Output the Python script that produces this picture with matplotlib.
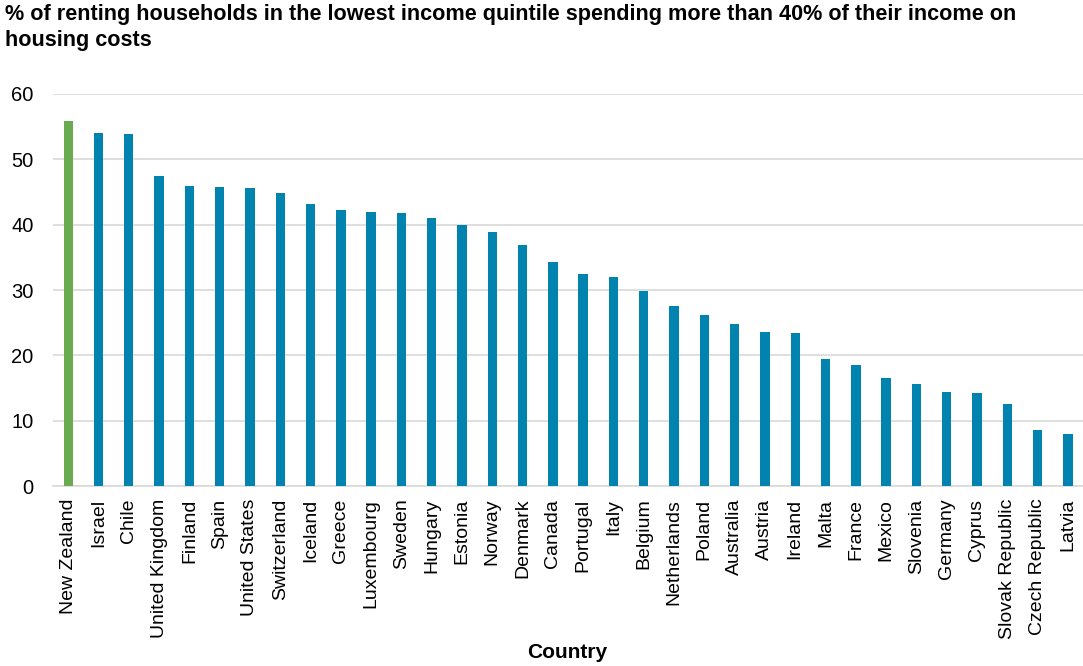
import matplotlib.pyplot as plt
import numpy as np

plt.rcParams['font.family'] = ['Liberation Sans', 'DejaVu Sans']

countries = [
    'New Zealand', 'Israel', 'Chile', 'United Kingdom', 'Finland', 'Spain',
    'United States', 'Switzerland', 'Iceland', 'Greece', 'Luxembourg',
    'Sweden', 'Hungary', 'Estonia', 'Norway', 'Denmark', 'Canada',
    'Portugal', 'Italy', 'Belgium', 'Netherlands', 'Poland', 'Australia',
    'Austria', 'Ireland', 'Malta', 'France', 'Mexico', 'Slovenia',
    'Germany', 'Cyprus', 'Slovak Republic', 'Czech Republic', 'Latvia',
]
share_over_40 = [
    55.9, 54.0, 53.8, 47.4, 45.9, 45.7, 45.6, 44.8, 43.2, 42.2, 42.0,
    41.8, 41.0, 40.0, 38.9, 36.9, 34.3, 32.4, 32.0, 29.9, 27.6, 26.2,
    24.8, 23.6, 23.5, 19.5, 18.6, 16.6, 15.6, 14.4, 14.2, 12.5, 8.6, 8.0,
]
highlight = 'New Zealand'

BLUE = '#0083ae'
GREEN = '#6aaa50'
GRID = '#d9d9d9'

fig = plt.figure(figsize=(10.83, 6.66), dpi=100)
ax = fig.add_axes([0.049, 0.27, 0.951, 0.589])

x = np.arange(len(countries))
colors = [GREEN if c == highlight else BLUE for c in countries]
ax.bar(x, share_over_40, width=0.31, color=colors, zorder=3)

ax.set_xlim(-0.5, len(countries) - 0.5)
ax.set_ylim(0, 60)
ax.set_yticks(range(0, 61, 10))
ax.set_xticks(x)
ax.set_xticklabels(countries, rotation=90, fontsize=14)
ax.tick_params(axis='y', labelsize=14.5, length=0, pad=14)
ax.tick_params(axis='x', length=0, pad=9)

ax.grid(axis='y', color=GRID, linewidth=1.2, zorder=0)
for side in ['top', 'right', 'left']:
    ax.spines[side].set_visible(False)
ax.spines['bottom'].set_color(GRID)
ax.spines['bottom'].set_linewidth(1.2)

# axis title sits below the rotated country names
fig.text(567 / 1083, 1 - 653 / 666, 'Country', fontsize=15, fontweight='bold',
         ha='center', va='center')

fig.text(5 / 1083, 1 - 4 / 666,
         '% of renting households in the lowest income quintile spending more than 40% of their income on\nhousing costs',
         fontsize=15.6, fontweight='bold', ha='left', va='top', linespacing=1.3)

fig.savefig('out.png', dpi=100)
